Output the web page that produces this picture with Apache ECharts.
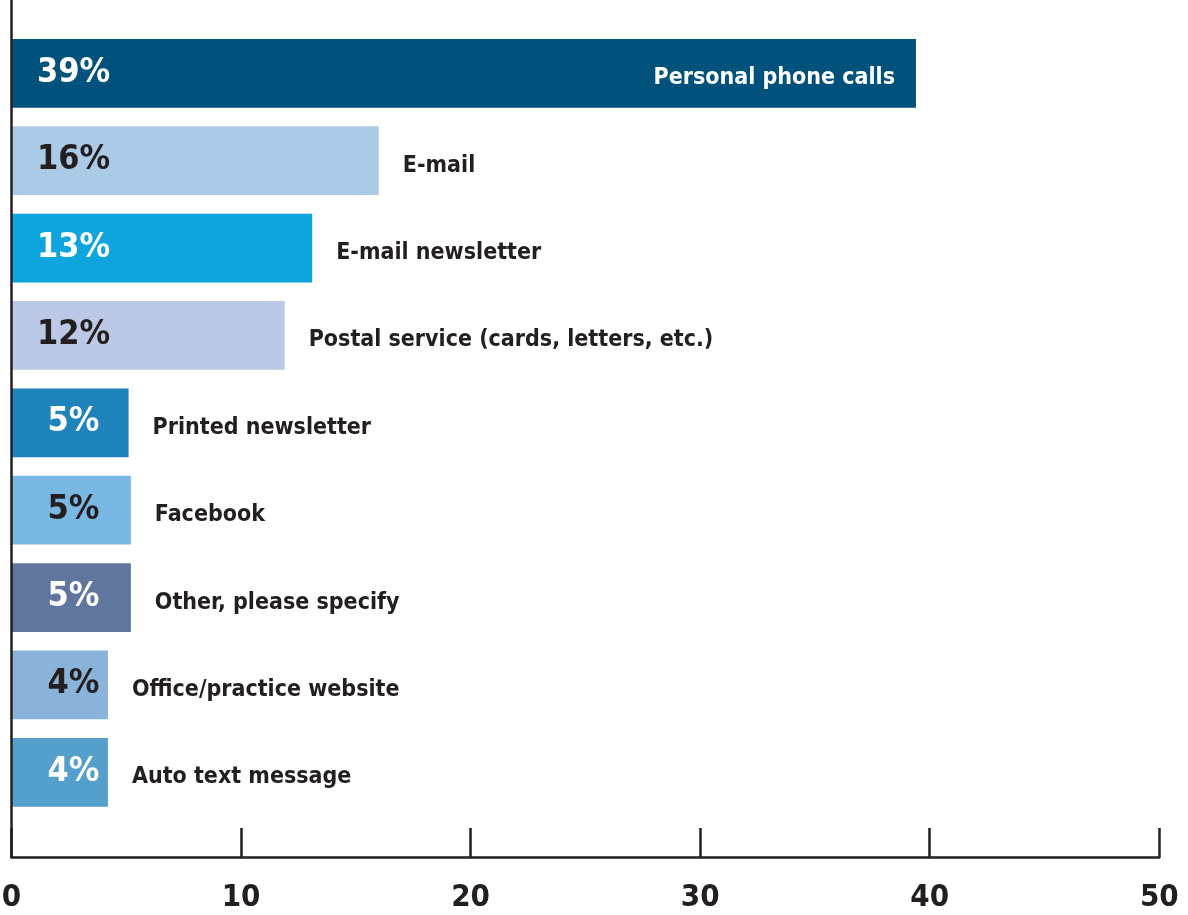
<!DOCTYPE html>
<html>
<head>
<meta charset="utf-8">
<title>Communication channels</title>
<script src="https://cdn.jsdelivr.net/npm/echarts@6/dist/echarts.min.js"></script>
<style>
  html, body { margin: 0; padding: 0; background: #fff; }
  #main { width: 1188px; height: 915px; }
</style>
</head>
<body>
<div id="main"></div>
<script>
// data
const categories = ['Personal phone calls', 'E-mail', 'E-mail newsletter', 'Postal service (cards, letters, etc.)', 'Printed newsletter', 'Facebook', 'Other, please specify', 'Office/practice website', 'Auto text message']
const values = [39.4, 16.0, 13.1, 11.9, 5.1, 5.2, 5.2, 4.2, 4.2]
const barColors = ['#00527c', '#abcae6', '#0ea5df', '#bcc9e6', '#1e82bb', '#7ab8e4', '#61769f', '#8ab3d9', '#559fcc']
const pctColors = ['#fff', '#231f20', '#fff', '#231f20', '#fff', '#231f20', '#fff', '#231f20', '#fff']
const xTicks = [0, 10, 20, 30, 40, 50]

const FONT = '"Liberation Sans Narrow", "DejaVu Sans Condensed", "Roboto", sans-serif'
const DARK = '#231f20'

const myChart = echarts.init(document.getElementById('main'))
const option = {
  animation: false,
  grid: [
    // bars
    { left: 11.5, right: 28.7, top: 29.6, bottom: 99, outerBoundsMode: 'none', containLabel: false },
    // axes frame
    { left: 11.5, right: 28.7, top: 0, bottom: 58, outerBoundsMode: 'none', containLabel: false }
  ],
  xAxis: [
    {
      gridIndex: 0, type: 'value', min: xTicks[0], max: xTicks[xTicks.length - 1], interval: 10,
      show: false
    },
    {
      gridIndex: 1, type: 'value', min: xTicks[0], max: xTicks[xTicks.length - 1], interval: 10,
      z: 5,
      axisLine: { show: true, lineStyle: { color: DARK, width: 2.5 } },
      axisTick: { show: true, inside: true, length: 29, lineStyle: { color: DARK, width: 2.5 } },
      axisLabel: {
        color: DARK, fontSize: 31, fontWeight: 'bold', fontFamily: FONT, margin: 25,
        showMinLabel: true, showMaxLabel: true, hideOverlap: false
      },
      splitLine: { show: false }
    }
  ],
  yAxis: [
    {
      gridIndex: 0, type: 'category', data: categories, inverse: true,
      show: false
    },
    {
      gridIndex: 1, type: 'value', min: 0, max: 1,
      z: 5,
      axisLine: { show: true, lineStyle: { color: DARK, width: 2.5 } },
      axisTick: { show: false }, axisLabel: { show: false }, splitLine: { show: false }
    }
  ],
  series: [
    {
      type: 'bar',
      xAxisIndex: 0, yAxisIndex: 0,
      barWidth: 68.7,
      data: values.map((v, i) => ({
        value: v,
        itemStyle: { color: barColors[i] },
        label: { color: pctColors[i] }
      })),
      label: {
        show: true,
        position: [62, 34],
        align: 'center',
        verticalAlign: 'middle',
        formatter: p => Math.round(p.value) + '%',
        fontSize: 34,
        fontWeight: 'bold',
        fontFamily: FONT
      }
    },
    {
      // category names beside the bars
      type: 'bar',
      xAxisIndex: 0, yAxisIndex: 0,
      barWidth: 68.7,
      barGap: '-100%',
      silent: true,
      data: values.map((v, i) => ({
        value: v,
        itemStyle: { color: 'rgba(0,0,0,0)' },
        label: i === 0
          ? { position: 'insideRight', distance: 21, color: '#fff' }
          : { position: 'right', distance: 24, color: DARK }
      })),
      label: {
        show: true,
        formatter: p => p.name,
        offset: [0, 5],
        fontSize: 23,
        fontWeight: 'bold',
        fontFamily: FONT
      }
    }
  ]
}
myChart.setOption(option)
</script>
</body>
</html>
